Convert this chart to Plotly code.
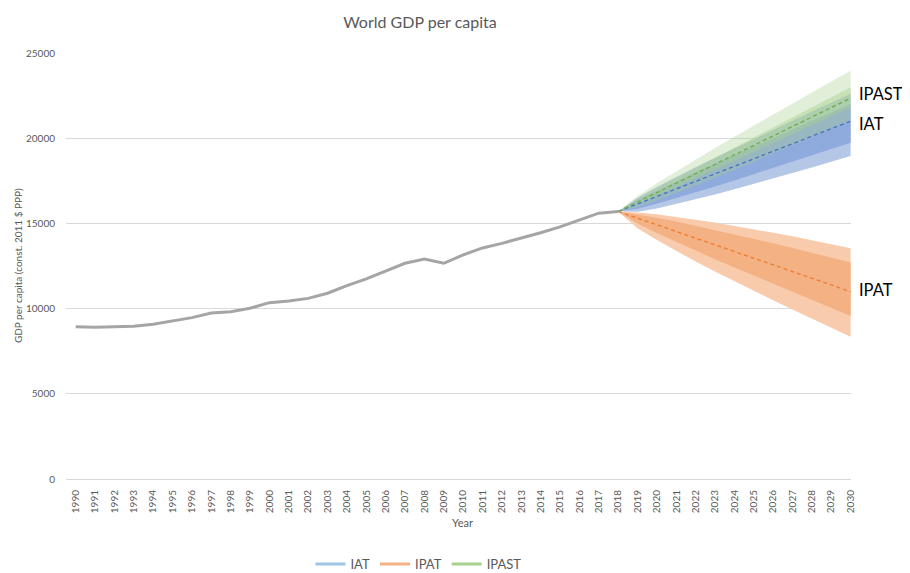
import plotly.graph_objects as go

# ---------------- data ----------------
hist_years = list(range(1990, 2019))
hist_gdp = [8940, 8900, 8940, 8960, 9080, 9270, 9470, 9740, 9820, 10020,
            10350, 10450, 10600, 10900, 11350, 11740, 12190, 12660, 12910, 12660,
            13150, 13560, 13830, 14120, 14450, 14800, 15200, 15600, 15700]

proj_years = list(range(2018, 2031))

iat_mid = [15700, 16140, 16580, 17030, 17470, 17910, 18350, 18790, 19230, 19680, 20120, 20560, 21000]
iat_out_lo = [15700, 15680, 15880, 16140, 16410, 16700, 17000, 17310, 17620, 17960, 18280, 18620, 18950]
iat_out_hi = [15700, 16500, 17130, 17730, 18300, 18860, 19410, 19950, 20480, 21030, 21560, 22080, 22600]
iat_in_lo = [15700, 15860, 16150, 16480, 16820, 17170, 17520, 17880, 18240, 18620, 18990, 19360, 19740]
iat_in_hi = [15700, 16370, 16920, 17470, 17990, 18500, 19010, 19510, 20010, 20520, 21020, 21510, 22000]

ipat_mid = [15700, 15310, 14920, 14530, 14130, 13740, 13350, 12960, 12570, 12180, 11780, 11390, 11000]
ipat_out_lo = [15700, 14710, 14020, 13380, 12760, 12170, 11600, 11040, 10490, 9950, 9400, 8880, 8350]
ipat_out_hi = [15700, 15640, 15530, 15390, 15220, 15060, 14870, 14660, 14450, 14240, 14020, 13780, 13540]
ipat_in_lo = [15700, 14990, 14430, 13910, 13390, 12900, 12410, 11930, 11450, 10980, 10500, 10030, 9570]
ipat_in_hi = [15700, 15530, 15330, 15110, 14860, 14620, 14370, 14100, 13830, 13560, 13280, 12990, 12700]

ipast_mid = [15700, 16250, 16810, 17360, 17920, 18470, 19030, 19580, 20130, 20690, 21240, 21800, 22350]
ipast_out_lo = [15700, 15950, 16350, 16770, 17220, 17670, 18140, 18600, 19070, 19560, 20030, 20520, 21000]
ipast_out_hi = [15700, 16610, 17360, 18060, 18750, 19420, 20090, 20750, 21390, 22040, 22680, 23330, 23960]
ipast_in_lo = [15700, 16130, 16630, 17130, 17640, 18150, 18670, 19190, 19710, 20240, 20760, 21290, 21810]
ipast_in_hi = [15700, 16390, 17030, 17640, 18250, 18850, 19450, 20040, 20630, 21230, 21810, 22410, 22990]

all_years = list(range(1990, 2031))
tick_text = [str(y) for y in all_years]
y_ticks = [0, 5000, 10000, 15000, 20000, 25000]

series_names = ["IAT", "IPAT", "IPAST"]
legend_colors = ["#9dc3e6", "#f4b183", "#a9d18e"]

# ---------------- figure ----------------
FONT = "Lato"
TXT = "#595959"
fig = go.Figure()

# historical line
fig.add_trace(go.Scatter(x=hist_years, y=hist_gdp, mode="lines",
                         line=dict(color="#a5a5a5", width=3), showlegend=False,
                         hoverinfo="skip"))


def band(lo, hi, color):
    fig.add_trace(go.Scatter(x=proj_years, y=lo, mode="lines", line=dict(width=0),
                             showlegend=False, hoverinfo="skip"))
    fig.add_trace(go.Scatter(x=proj_years, y=hi, mode="lines", line=dict(width=0),
                             fill="tonexty", fillcolor=color, showlegend=False,
                             hoverinfo="skip"))


band(iat_out_lo, iat_out_hi, "#b4c7e7")
band(iat_in_lo, iat_in_hi, "#8faadc")
band(ipat_out_lo, ipat_out_hi, "#f8cbad")
band(ipat_in_lo, ipat_in_hi, "#f4b183")
band(ipast_out_lo, ipast_out_hi, "rgba(169,209,142,0.35)")
band(ipast_in_lo, ipast_in_hi, "rgba(169,209,142,0.45)")

for mid, col in [(iat_mid, "#4472c4"), (ipat_mid, "#ed7d31"), (ipast_mid, "#70ad47")]:
    fig.add_trace(go.Scatter(x=proj_years, y=mid, mode="lines",
                             line=dict(color=col, width=1.3, dash="4px,3px"),
                             showlegend=False, hoverinfo="skip"))

# legend entries
for name, col in zip(series_names, legend_colors):
    fig.add_trace(go.Scatter(x=[None], y=[None], mode="lines", name=name,
                             line=dict(color=col, width=3)))

# labels at the end of the fans
end_labels = [("IPAST", 22594), ("IAT", 20833), ("IPAT", 11092)]
for txt, yv in end_labels:
    fig.add_annotation(x=1.008, xref="paper", y=yv, yref="y", text=txt,
                       showarrow=False, xanchor="left", yanchor="middle",
                       font=dict(family=FONT, size=16.5, color="#000000"))

# axis titles
fig.add_annotation(x=-0.061, xref="paper", y=0.5, yref="paper",
                   text="GDP per capita (const. 2011 $ PPP)", textangle=-90,
                   showarrow=False, xanchor="center", yanchor="middle",
                   font=dict(family=FONT, size=10, color=TXT))
fig.add_annotation(x=0.5045, xref="paper", y=-0.101, yref="paper", text="Year",
                   showarrow=False, xanchor="center", yanchor="middle",
                   font=dict(family=FONT, size=11, color=TXT))

# page body has an 8px default margin, so the figure is 8px smaller
W, H = 902, 565
fig.update_layout(
    width=W, height=H,
    margin=dict(l=58, r=59, t=45, b=94, autoexpand=False),
    paper_bgcolor="white", plot_bgcolor="white",
    title=dict(text="World GDP per capita", x=412 / W, xanchor="center",
               y=1 - 14 / H, yanchor="middle",
               font=dict(family=FONT, size=16, color=TXT)),
    font=dict(family=FONT, color=TXT),
    showlegend=True,
    legend=dict(orientation="h", x=0.449, xanchor="center", xref="paper",
                yref="container", y=1 - 541 / H, yanchor="top",
                traceorder="normal",
                font=dict(family=FONT, size=13, color=TXT),
                bgcolor="rgba(0,0,0,0)"),
    xaxis=dict(range=[1989.5, 2030.02], tickmode="array", tickvals=all_years,
               ticktext=tick_text, tickangle=-90, showgrid=False, zeroline=False,
               showline=True, linecolor="#d9d9d9", linewidth=1, automargin=False,
               tickfont=dict(family=FONT, size=10, color=TXT),
               ticks="", ticklabelstandoff=6),
    yaxis=dict(range=[0, 25000], tickmode="array", tickvals=y_ticks,
               ticktext=[str(v) for v in y_ticks], showgrid=True, automargin=False,
               gridcolor="#d9d9d9", gridwidth=1, zeroline=False, showline=False,
               tickfont=dict(family=FONT, size=10, color=TXT),
               ticks="", ticklabelstandoff=10),
)

fig.write_html("out.html")
